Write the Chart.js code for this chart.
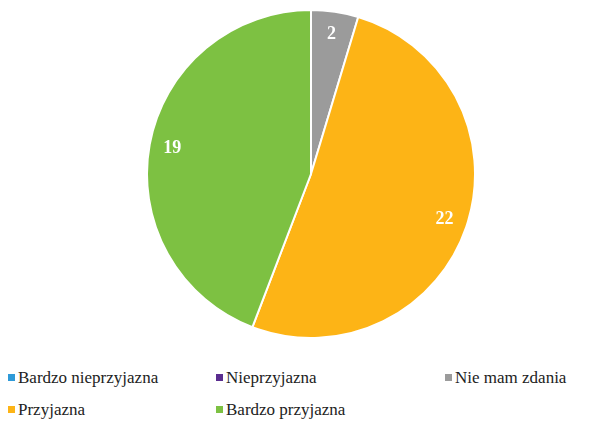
<!DOCTYPE html>
<html>
<head>
<meta charset="utf-8">
<script src="https://cdn.jsdelivr.net/npm/chart.js@4.4.0/dist/chart.umd.min.js"></script>
<style>
  body { margin: 0; background: #fff; width: 594px; height: 421px; position: relative; overflow: hidden; font-family: 'Liberation Serif', 'Times New Roman', Tinos, serif; }
  #wrap { position: absolute; left: 146px; top: 9px; width: 330px; height: 330px; }
  .leg { position: absolute; font-family: 'Liberation Serif', 'Times New Roman', Tinos, serif; font-size: 17px; color: #222; white-space: nowrap; line-height: 18px; }
  .mark { display: inline-block; width: 7px; height: 7px; margin-right: 3px; vertical-align: 2px; }
</style>
</head>
<body>
<div id="wrap"><canvas id="pie"></canvas></div>
<div class="leg" style="left:8px;top:369px"><i class="mark" style="background:#2E9AD8"></i>Bardzo nieprzyjazna</div>
<div class="leg" style="left:216px;top:369px"><i class="mark" style="background:#5A2D8F"></i>Nieprzyjazna</div>
<div class="leg" style="left:445px;top:369px"><i class="mark" style="background:#9B9B9B"></i>Nie mam zdania</div>
<div class="leg" style="left:8px;top:401px"><i class="mark" style="background:#FDB416"></i>Przyjazna</div>
<div class="leg" style="left:216px;top:401px"><i class="mark" style="background:#7DC142"></i>Bardzo przyjazna</div>
<script>
// answers to the survey question
var labels = ['Bardzo nieprzyjazna', 'Nieprzyjazna', 'Nie mam zdania', 'Przyjazna', 'Bardzo przyjazna'];
var counts = [0, 0, 2, 22, 19];
var colors = ['#2E9AD8', '#5A2D8F', '#9B9B9B', '#FDB416', '#7DC142'];

Chart.defaults.font.family = "'Liberation Serif', 'Times New Roman', serif";

// value labels inside the slices
var valueLabels = {
    id: 'valueLabels',
    afterDatasetsDraw: function(chart){
        var ctx = chart.ctx;
        var meta = chart.getDatasetMeta(0);
        ctx.save();
        ctx.fillStyle = '#fff';
        ctx.font = "bold 18px 'Liberation Serif', 'Times New Roman', serif";
        ctx.textAlign = 'center';
        ctx.textBaseline = 'middle';
        meta.data.forEach(function(arc, i){
            if (!counts[i]) return;
            var p = arc.getProps(['x', 'y', 'startAngle', 'endAngle', 'outerRadius'], true);
            var a = (p.startAngle + p.endAngle) / 2;
            var r = p.outerRadius * 0.86;
            ctx.fillText(String(counts[i]), p.x + Math.cos(a) * r, p.y + Math.sin(a) * r);
        });
        ctx.restore();
    }
};

var ctx = document.getElementById('pie').getContext('2d');
var myPie = new Chart(ctx, {
    type: 'pie',
    data: {
        labels: labels,
        datasets: [{
            data: counts,
            backgroundColor: colors,
            borderColor: '#fff',
            borderWidth: 2
        }]
    },
    options: {
        responsive: true,
        maintainAspectRatio: false,
        animation: false,
        plugins: { legend: { display: false }, tooltip: { enabled: false } }
    },
    plugins: [valueLabels]
});
</script>
</body>
</html>
